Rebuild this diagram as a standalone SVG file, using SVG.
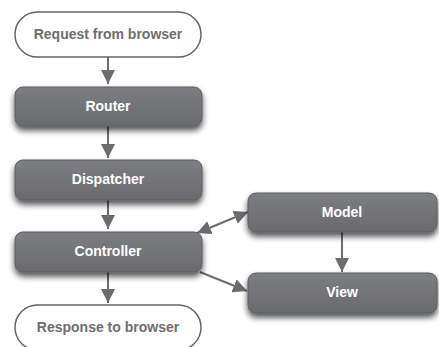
<svg xmlns="http://www.w3.org/2000/svg" width="439" height="347" viewBox="0 0 439 347">
<defs>
<linearGradient id="g" x1="0" y1="0" x2="0" y2="1">
<stop offset="0" stop-color="#7d7e82"/>
<stop offset="1" stop-color="#696a6e"/>
</linearGradient>
<filter id="sh" x="-10%" y="-20%" width="120%" height="160%">
<feGaussianBlur in="SourceAlpha" stdDeviation="3"/>
<feOffset dx="0" dy="4" result="b"/>
<feComponentTransfer><feFuncA type="linear" slope="0.7"/></feComponentTransfer>
<feMerge><feMergeNode/><feMergeNode in="SourceGraphic"/></feMerge>
</filter>
<marker id="a" viewBox="0 0 14 14" refX="14" refY="7" markerWidth="14" markerHeight="14" markerUnits="userSpaceOnUse" orient="auto-start-reverse">
<path d="M0,0 L14,7 L0,14 Z" fill="#6b6c70"/>
</marker>
</defs>
<style>
.box{fill:url(#g);stroke:#5e5f63;stroke-width:1;filter:url(#sh)}
.pill{fill:#fff;stroke:#666;stroke-width:1.5}
.t{font-family:"Liberation Sans",Arial,sans-serif;font-weight:bold;font-size:14px;text-anchor:middle}
.tw{fill:#fff}
.tg{fill:#6e6e6e}
.c{stroke:#6b6c70;stroke-width:2;fill:none;marker-end:url(#a)}
</style>
<g id="connectors">
<line class="c" x1="108" y1="57" x2="108" y2="84"/>
<line class="c" x1="108" y1="126" x2="108" y2="158"/>
<line class="c" x1="108" y1="200" x2="108" y2="229"/>
<line class="c" x1="108" y1="272" x2="108" y2="303"/>
<line class="c" x1="342" y1="232" x2="342" y2="272"/>
<line class="c" x1="197" y1="233" x2="248" y2="212" style="marker-start:url(#a)"/>
<line class="c" x1="200" y1="272" x2="247" y2="291"/>
</g>
<g id="request">
<rect class="pill" x="15" y="12" width="186" height="45" rx="22.5"/>
<text class="t tg" x="108" y="39">Request from browser</text>
</g>
<g id="router">
<rect class="box" x="15" y="87" width="187" height="39" rx="8"/>
<text class="t tw" x="108" y="111">Router</text>
</g>
<g id="dispatcher">
<rect class="box" x="15" y="160" width="187" height="40" rx="8"/>
<text class="t tw" x="108" y="184">Dispatcher</text>
</g>
<g id="controller">
<rect class="box" x="15" y="232" width="187" height="40" rx="8"/>
<text class="t tw" x="108" y="256">Controller</text>
</g>
<g id="model">
<rect class="box" x="248" y="193" width="189" height="39" rx="8"/>
<text class="t tw" x="342" y="217">Model</text>
</g>
<g id="view">
<rect class="box" x="248" y="273" width="189" height="40" rx="8"/>
<text class="t tw" x="342" y="297">View</text>
</g>
<g id="response">
<rect class="pill" x="15" y="305" width="186" height="45" rx="22.5"/>
<text class="t tg" x="108" y="332">Response to browser</text>
</g>
</svg>
